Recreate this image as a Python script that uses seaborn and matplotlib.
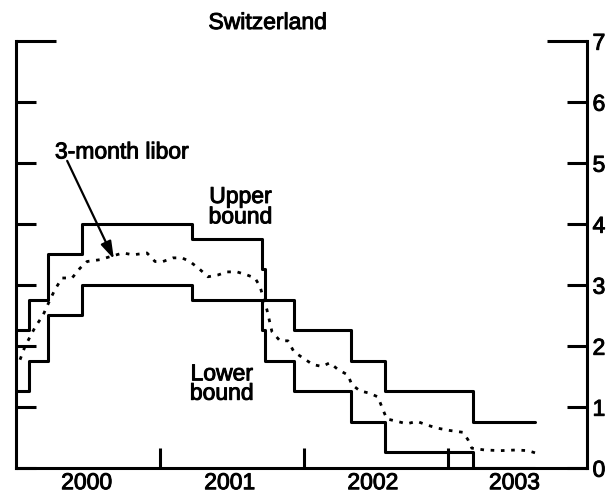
import matplotlib
matplotlib.use('Agg')
import matplotlib.pyplot as plt
import matplotlib.patheffects as pe
import seaborn as sns

# SNB target range for 3-month libor (decimal years, step changes)
step_dates = [2000.0, 2000.09, 2000.225, 2000.455, 2001.22, 2001.71, 2001.73,
              2001.93, 2002.33, 2002.565, 2003.175, 2003.61]
upper_bound = [2.25, 2.75, 3.5, 4.0, 3.75, 3.25, 2.75, 2.25, 1.75, 1.25, 0.75, 0.75]
lower_bound = [1.25, 1.75, 2.5, 3.0, 2.75, 2.25, 1.75, 1.25, 0.75, 0.25, 0.0, 0.0]

# 3-month libor
libor_dates = [2000.027, 2000.062, 2000.131, 2000.187, 2000.235, 2000.270, 2000.319,
               2000.389, 2000.444, 2000.493, 2000.583, 2000.653, 2000.743, 2000.813,
               2000.910, 2000.966, 2001.021, 2001.091, 2001.153, 2001.209, 2001.278,
               2001.334, 2001.404, 2001.466, 2001.536, 2001.605, 2001.661, 2001.696,
               2001.744, 2001.779, 2001.835, 2001.890, 2001.932, 2001.994, 2002.064,
               2002.127, 2002.182, 2002.238, 2002.307, 2002.335, 2002.391, 2002.460,
               2002.516, 2002.551, 2002.578, 2002.648, 2002.717, 2002.787, 2002.857,
               2002.926, 2003.016, 2003.107, 2003.142, 2003.169, 2003.260, 2003.371,
               2003.475, 2003.559, 2003.614]
libor_rate = [1.77, 1.99, 2.30, 2.50, 2.75, 2.92, 3.11,
              3.11, 3.27, 3.38, 3.41, 3.46, 3.52, 3.49,
              3.52, 3.38, 3.38, 3.44, 3.44, 3.38, 3.25,
              3.13, 3.16, 3.21, 3.21, 3.16, 3.11, 2.97,
              2.59, 2.23, 2.08, 2.08, 1.90, 1.80, 1.69,
              1.66, 1.72, 1.61, 1.52, 1.36, 1.26, 1.22,
              1.16, 0.95, 0.80, 0.76, 0.72, 0.76, 0.70,
              0.65, 0.61, 0.58, 0.46, 0.32, 0.29, 0.28,
              0.29, 0.28, 0.24]

year_labels = ['2000', '2001', '2002', '2003']
year_breaks = [2001, 2002, 2003]
label_pos = [2000.49, 2001.485, 2002.48, 2003.465]

sns.set_style('ticks')
plt.rcParams['font.family'] = ['Liberation Sans', 'DejaVu Sans']
plt.rcParams['text.color'] = 'black'
plt.rcParams['xtick.color'] = 'black'
plt.rcParams['ytick.color'] = 'black'

# a light stroke makes the text look like the heavier print of the original
ink = [pe.withStroke(linewidth=0.7, foreground='black')]

fig = plt.figure(figsize=(6.06, 4.94), dpi=100)
ax = fig.add_axes([15.7 / 606, 26.3 / 494, (587 - 15.7) / 606, (467.7 - 40.7) / 494])

sns.lineplot(x=step_dates, y=upper_bound, color='black', lw=2.2,
             drawstyle='steps-post', ax=ax)
sns.lineplot(x=step_dates, y=lower_bound, color='black', lw=2.2,
             drawstyle='steps-post', ax=ax)
sns.lineplot(x=libor_dates, y=libor_rate, color='black', lw=2.0,
             linestyle=(0, (1.3, 2.4)), ax=ax)

ax.set_xlim(1999.997, 2003.97)
ax.set_ylim(0, 7)

# axes frame
sns.despine(ax=ax, top=True, right=False)
for s in ['left', 'right', 'bottom']:
    ax.spines[s].set_linewidth(2.2)
    ax.spines[s].set_color('black')

ax.set_yticks(range(0, 8))
ax.tick_params(axis='y', which='major', direction='in', length=14.4, width=2.2,
               left=True, right=True, labelleft=False, labelright=True,
               labelsize=16.5, pad=4, colors='black')
# longer tick at the top on both sides
top_tick = ax.yaxis.get_major_ticks()[-1]
top_tick.tick1line.set_markersize(28.8)
top_tick.tick2line.set_markersize(28.8)

ax.set_xticks(year_breaks)
ax.set_xticklabels([])
ax.set_xticks(label_pos, minor=True)
ax.set_xticklabels(year_labels, minor=True)
ax.tick_params(axis='x', which='major', direction='in', length=14.4, width=2.2,
               colors='black')
ax.tick_params(axis='x', which='minor', length=0, labelsize=16.5, pad=2.5,
               colors='black')
ax.set_xlabel('')
ax.set_ylabel('')

for lab in ax.get_xticklabels(minor=True) + ax.get_yticklabels():
    lab.set_path_effects(ink)

fig.text(267.5 / 606, (494 - 29) / 494, 'Switzerland', ha='center', va='baseline',
         fontsize=16.5, path_effects=ink)

ax.text(2000.27, 5.07, '3-month libor', ha='left', va='baseline', fontsize=16.5,
        path_effects=ink)
ax.annotate('', xy=(2000.68, 3.42), xytext=(2000.355, 5.03),
            arrowprops=dict(arrowstyle='-|>,head_length=0.7,head_width=0.22',
                            color='black', lw=1.6, mutation_scale=15,
                            shrinkA=0, shrinkB=0))
ax.text(2001.56, 4.28, 'Upper\nbound', ha='center', va='center', fontsize=16.5,
        linespacing=0.85, path_effects=ink)
ax.text(2001.43, 1.38, 'Lower\nbound', ha='center', va='center', fontsize=16.5,
        linespacing=0.8, path_effects=ink)

fig.savefig('out.png', dpi=100)
